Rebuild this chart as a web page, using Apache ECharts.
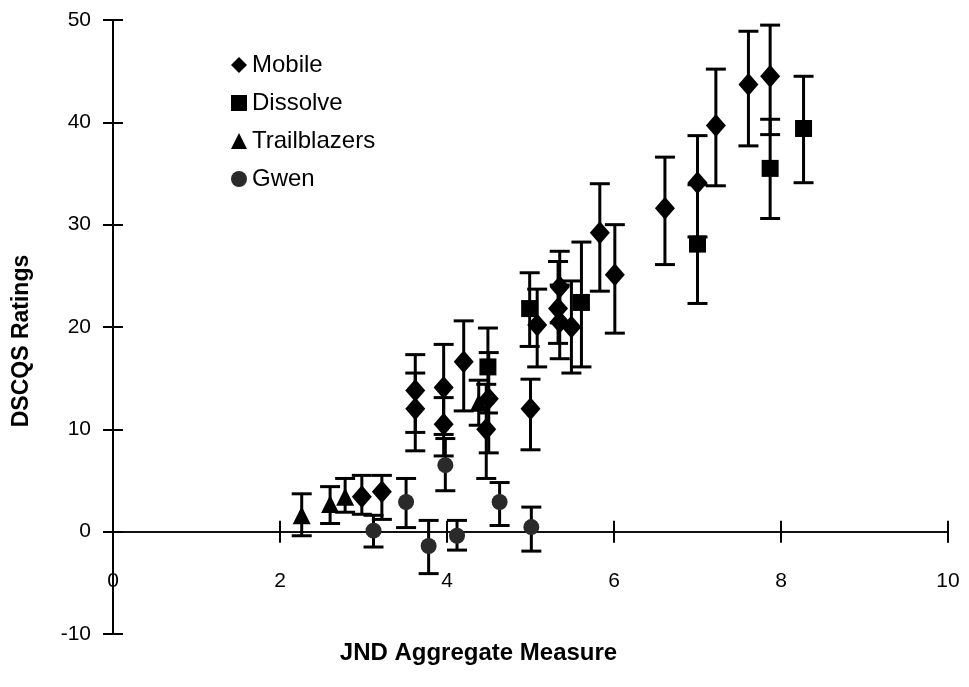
<!DOCTYPE html>
<html>
<head>
<meta charset="utf-8">
<script src="https://cdn.jsdelivr.net/npm/echarts@6/dist/echarts.min.js"></script>
<style>
html,body{margin:0;padding:0;background:#fff;}
#chart{width:969px;height:687px;}
</style>
</head>
<body>
<div id="chart"></div>
<script>
// ---- data ----
const xTicks = [0, 2, 4, 6, 8, 10];
const yTicks = [-10, 0, 10, 20, 30, 40, 50];

const mobileX    = [2.98, 3.22, 3.62, 3.62, 3.96, 3.96, 4.20, 4.50, 4.47, 5.00, 5.08, 5.35, 5.33, 5.35, 5.49, 5.83, 6.01, 6.61, 7.00, 7.22, 7.61, 7.87];
const mobileY    = [3.4, 3.9, 13.8, 12.0, 14.1, 10.5, 16.6, 13.0, 10.0, 12.0, 20.2, 23.9, 21.8, 20.5, 20.0, 29.2, 25.1, 31.6, 34.1, 39.7, 43.7, 44.5];
const mobileLow  = [1.7, 1.2, 9.7, 7.9, 9.5, 7.4, 11.8, 7.7, 5.2, 8.0, 16.1, 20.4, 18.4, 16.9, 15.5, 23.5, 19.4, 26.1, 28.8, 33.8, 37.7, 38.8];
const mobileHigh = [5.5, 5.5, 17.3, 15.5, 18.3, 13.1, 20.6, 17.5, 14.4, 14.9, 23.7, 27.4, 26.4, 24.1, 24.5, 34.0, 30.0, 36.6, 38.7, 45.2, 48.9, 49.5];

const dissolveX    = [4.49, 4.99, 5.61, 7.00, 7.87, 8.27];
const dissolveY    = [16.1, 21.8, 22.4, 28.1, 35.5, 39.4];
const dissolveLow  = [11.6, 18.1, 16.1, 22.3, 30.6, 34.1];
const dissolveHigh = [19.9, 25.3, 28.3, 33.9, 40.3, 44.5];

const trailX    = [2.26, 2.60, 2.78, 4.38];
const trailY    = [1.6, 2.7, 3.4, 12.6];
const trailLow  = [-0.4, 0.8, 1.9, 10.4];
const trailHigh = [3.7, 4.4, 5.2, 14.8];

const gwenX    = [3.12, 3.51, 3.78, 3.98, 4.12, 4.63, 5.01];
const gwenY    = [0.1, 2.9, -1.4, 6.5, -0.4, 2.9, 0.45];
const gwenLow  = [-1.5, 0.4, -4.1, 4.0, -1.8, 0.6, -1.9];
const gwenHigh = [1.6, 5.2, 1.1, 9.1, 1.1, 4.8, 2.4];

// ---- helpers ----
const FONT = '"Liberation Sans", Arial, Helvetica, sans-serif';
function pts(xs, ys) { return xs.map((x, i) => [x, ys[i]]); }
function errs(xs, lo, hi) { return xs.map((x, i) => [x, lo[i], hi[i]]); }

function renderErr(params, api) {
  const x = api.value(0), lo = api.value(1), hi = api.value(2);
  const pHi = api.coord([x, hi]);
  const pLo = api.coord([x, lo]);
  const w = 10;
  const st = { stroke: '#000', lineWidth: 3 };
  return {
    type: 'group',
    children: [
      { type: 'line', shape: { x1: pHi[0], y1: pHi[1], x2: pLo[0], y2: pLo[1] }, style: st },
      { type: 'line', shape: { x1: pHi[0] - w, y1: pHi[1], x2: pHi[0] + w, y2: pHi[1] }, style: st },
      { type: 'line', shape: { x1: pLo[0] - w, y1: pLo[1], x2: pLo[0] + w, y2: pLo[1] }, style: st }
    ]
  };
}

function errSeries(name, data) {
  return {
    name: name + ' error',
    type: 'custom',
    renderItem: renderErr,
    data: data,
    encode: { x: 0, y: [1, 2] },
    z: 1,
    silent: true
  };
}

const chart = echarts.init(document.getElementById('chart'), null, { renderer: 'canvas' });

const option = {
  backgroundColor: '#fff',
  animation: false,
  textStyle: { fontFamily: FONT },
  grid: { left: 113, right: 21, top: 20, bottom: 53, containLabel: false, outerBoundsMode: 'none' },
  legend: {
    orient: 'vertical',
    left: 226,
    top: 48,
    itemWidth: 16,
    itemHeight: 16,
    itemGap: 14,
    textStyle: { fontFamily: FONT, fontSize: 24, color: '#000', lineHeight: 24 },
    data: [
      { name: 'Mobile', icon: 'diamond' },
      { name: 'Dissolve', icon: 'rect' },
      { name: 'Trailblazers', icon: 'triangle' },
      { name: 'Gwen', icon: 'circle' }
    ]
  },
  xAxis: [
    {
      type: 'value', min: 0, max: 10, interval: 2,
      name: 'JND Aggregate Measure', nameLocation: 'middle', nameGap: 7,
      nameTextStyle: { fontFamily: FONT, fontSize: 24, fontWeight: 'bold', color: '#000', verticalAlign: 'top', padding: [0, 104, 0, 0] },
      axisLine: { show: true, onZero: true, onZeroAxisIndex: 0, lineStyle: { color: '#111', width: 2 } },
      axisTick: { show: true, inside: false, length: 11, lineStyle: { color: '#000', width: 2 } },
      axisLabel: { show: true, margin: -63, fontFamily: FONT, fontSize: 21, color: '#000',
        formatter: v => xTicks.includes(v) ? String(v) : '' },
      splitLine: { show: false }
    },
    {
      type: 'value', min: 0, max: 10, interval: 2, position: 'top',
      axisLine: { show: false, onZero: true, onZeroAxisIndex: 0 },
      axisTick: { show: true, inside: false, length: 11, lineStyle: { color: '#000', width: 2 } },
      axisLabel: { show: false },
      splitLine: { show: false }
    }
  ],
  yAxis: [
    {
      type: 'value', min: -10, max: 50, interval: 10,
      name: 'DSCQS Ratings', nameLocation: 'middle', nameGap: 80,
      nameTextStyle: { fontFamily: FONT, fontSize: 23, fontWeight: 'bold', color: '#000', padding: [0, 28, 0, 0] },
      axisLine: { show: true, onZero: true, onZeroAxisIndex: 0, lineStyle: { color: '#000', width: 2 } },
      axisTick: { show: true, inside: false, length: 10, lineStyle: { color: '#000', width: 2 } },
      axisLabel: { show: true, margin: 22, fontFamily: FONT, fontSize: 21, color: '#000',
        formatter: v => yTicks.includes(v) ? String(v) : '' },
      splitLine: { show: false }
    },
    {
      type: 'value', min: -10, max: 50, interval: 10, position: 'right',
      axisLine: { show: false, onZero: true, onZeroAxisIndex: 0 },
      axisTick: { show: true, inside: false, length: 10, lineStyle: { color: '#000', width: 2 } },
      axisLabel: { show: false },
      splitLine: { show: false }
    }
  ],
  series: [
    errSeries('Mobile', errs(mobileX, mobileLow, mobileHigh)),
    errSeries('Dissolve', errs(dissolveX, dissolveLow, dissolveHigh)),
    errSeries('Trailblazers', errs(trailX, trailLow, trailHigh)),
    errSeries('Gwen', errs(gwenX, gwenLow, gwenHigh)),
    {
      name: 'Mobile', type: 'scatter', symbol: 'diamond', symbolSize: [20, 23],
      itemStyle: { color: '#000', opacity: 1 }, z: 3,
      data: pts(mobileX, mobileY)
    },
    {
      name: 'Dissolve', type: 'scatter', symbol: 'rect', symbolSize: 17,
      itemStyle: { color: '#000', opacity: 1 }, z: 3,
      data: pts(dissolveX, dissolveY)
    },
    {
      name: 'Trailblazers', type: 'scatter', symbol: 'triangle', symbolSize: [18, 18],
      itemStyle: { color: '#000', opacity: 1 }, z: 3,
      data: pts(trailX, trailY)
    },
    {
      name: 'Gwen', type: 'scatter', symbol: 'circle', symbolSize: 16,
      itemStyle: { color: '#2a2a2a', opacity: 1 }, z: 3,
      data: pts(gwenX, gwenY)
    }
  ]
};

chart.setOption(option);
</script>
</body>
</html>
